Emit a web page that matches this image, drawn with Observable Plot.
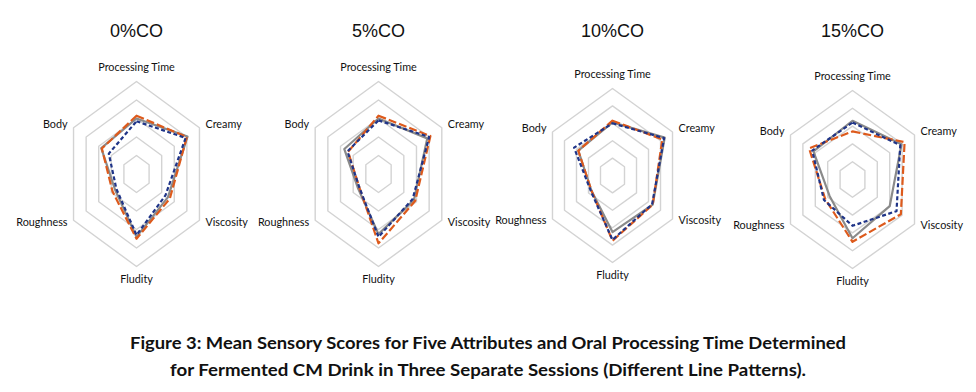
<!DOCTYPE html>
<html>
<head>
<meta charset="utf-8">
<script src="https://cdn.jsdelivr.net/npm/d3@7"></script>
<script src="https://cdn.jsdelivr.net/npm/@observablehq/plot@0.6"></script>
<style>
  html, body { margin: 0; padding: 0; background: #ffffff; }
  body { width: 976px; height: 392px; overflow: hidden; position: relative; }
  .radar { position: absolute; top: 0; }
  #caption { position: absolute; left: 0; top: 320px; }
</style>
</head>
<body>
<div id="charts"></div>
<svg id="caption" width="976" height="72"></svg>
<script>
// ---------- data ----------
const attributes = ["Processing Time", "Creamy", "Viscosity", "Fludity", "Roughness", "Body"];
const samples = ["0%CO", "5%CO", "10%CO", "15%CO"];
const sessions = ["Session 1", "Session 2", "Session 3"];
const ringLevels = [1, 2, 3, 4, 5];

// mean scores, in attribute order
const session1_0CO = [3.0, 4.05, 2.5, 3.4, 1.7, 2.8];
const session2_0CO = [3.15, 4.0, 2.65, 3.5, 1.9, 2.75];
const session3_0CO = [2.85, 3.9, 2.3, 3.3, 1.6, 2.2];

const session1_5CO = [3.0, 3.85, 2.8, 3.25, 1.6, 2.7];
const session2_5CO = [3.15, 4.1, 2.9, 3.75, 1.5, 2.4];
const session3_5CO = [2.9, 4.0, 2.7, 3.4, 1.5, 2.45];

const session1_10CO = [3.05, 4.35, 3.35, 3.25, 1.75, 2.85];
const session2_10CO = [3.15, 4.15, 3.35, 3.75, 1.75, 2.85];
const session3_10CO = [3.0, 4.3, 3.3, 3.7, 1.8, 3.2];

const session1_15CO = [3.3, 3.95, 3.0, 3.3, 1.85, 3.15];
const session2_15CO = [2.7, 4.2, 3.9, 3.5, 2.2, 3.5];
const session3_15CO = [3.2, 3.85, 3.55, 2.6, 2.3, 3.25];

const captionLines = [
  "Figure 3: Mean Sensory Scores for Five Attributes and Oral Processing Time Determined",
  "for Fermented CM Drink in Three Separate Sessions (Different Line Patterns)."
];

// ---------- layout & style (not data) ----------
const scoresBySample = [
  [session1_0CO, session2_0CO, session3_0CO],
  [session1_5CO, session2_5CO, session3_5CO],
  [session1_10CO, session2_10CO, session3_10CO],
  [session1_15CO, session2_15CO, session3_15CO]
];
const layout = [
  {cx: 135.5, cy: 173.5, rx: 72.7, ry: 92.5},
  {cx: 378.3, cy: 173.5, rx: 73.1, ry: 92.5},
  {cx: 611.7, cy: 175.0, rx: 69.3, ry: 87.0},
  {cx: 851.8, cy: 179.0, rx: 71.6, ry: 89.0}
];
const seriesStyle = [
  {stroke: "#8a8a8a", dash: null},
  {stroke: "#dd5a1c", dash: "8,3"},
  {stroke: "#1f3488", dash: "4,2.5"}
];
const W = 260, H = 300, maxScore = 5;
const labelFont = "Lato, 'Open Sans', sans-serif";

const angle = i => i * Math.PI * 2 / attributes.length;
const px = (v, i) => v * Math.sin(angle(i));
const py = (v, i) => v * Math.cos(angle(i));

const ringData = ringLevels.flatMap(r => attributes.map((a, i) => ({ring: r, x: px(r, i), y: py(r, i)})));
const labelData = attributes.map((a, i) => ({attr: a, i, x: px(maxScore, i), y: py(maxScore, i)}));
const labelOpts = [
  {textAnchor: "middle", dx: 0, dy: -14},
  {textAnchor: "start", dx: 6, dy: -3},
  {textAnchor: "start", dx: 6, dy: 2},
  {textAnchor: "middle", dx: 0, dy: 13},
  {textAnchor: "end", dx: -6, dy: 2},
  {textAnchor: "end", dx: -6, dy: -3}
];

const container = document.getElementById("charts");

samples.forEach((sample, s) => {
  const L = layout[s];
  const seriesMarks = sessions.map((sess, k) => {
    const vals = scoresBySample[s][k];
    const pts = attributes.map((a, i) => ({session: sess, attr: a, value: vals[i], x: px(vals[i], i), y: py(vals[i], i)}));
    const st = seriesStyle[k];
    return Plot.line(pts, {
      x: "x", y: "y", curve: "linear-closed",
      stroke: st.stroke, strokeWidth: 2.2,
      strokeDasharray: st.dash || undefined,
      strokeLinejoin: "round", strokeLinecap: "butt"
    });
  });
  const labelMarks = labelData.map(d => Plot.text([d], {
    x: "x", y: "y", text: "attr",
    textAnchor: labelOpts[d.i].textAnchor, dx: labelOpts[d.i].dx, dy: labelOpts[d.i].dy,
    fontSize: 10.8, fontFamily: labelFont, fill: "#111", lineAnchor: "middle"
  }));
  const plot = Plot.plot({
    width: W, height: H,
    marginTop: 0, marginBottom: 0, marginLeft: 0, marginRight: 0,
    x: {domain: [-maxScore, maxScore], range: [W / 2 - L.rx, W / 2 + L.rx], axis: null},
    y: {domain: [-maxScore, maxScore], range: [L.cy + L.ry, L.cy - L.ry], axis: null},
    style: {background: "none", overflow: "visible", maxWidth: "none"},
    marks: [
      Plot.line(ringData, {x: "x", y: "y", z: "ring", curve: "linear-closed", stroke: "#d3d3d3", strokeWidth: 1.4}),
      ...seriesMarks,
      ...labelMarks,
      Plot.text([sample], {
        text: d => d, frameAnchor: "top", dy: 31, lineAnchor: "middle",
        fontSize: 18, fontFamily: "'Liberation Sans', Arial, sans-serif", fill: "#111"
      })
    ]
  });
  const div = document.createElement("div");
  div.className = "radar";
  div.style.left = (L.cx - W / 2) + "px";
  div.appendChild(plot);
  container.appendChild(div);
});

// caption
const cap = d3.select("#caption");
const capStyle = [{y: 29, len: 716}, {y: 56, len: 636}];
captionLines.forEach((line, i) => {
  cap.append("text")
    .attr("x", 488).attr("y", capStyle[i].y)
    .attr("text-anchor", "middle")
    .attr("textLength", capStyle[i].len)
    .attr("lengthAdjust", "spacingAndGlyphs")
    .style("font-family", "Lato, 'Open Sans', sans-serif")
    .style("font-weight", "700")
    .style("font-size", "17px")
    .style("fill", "#111")
    .text(line);
});
</script>
</body>
</html>
